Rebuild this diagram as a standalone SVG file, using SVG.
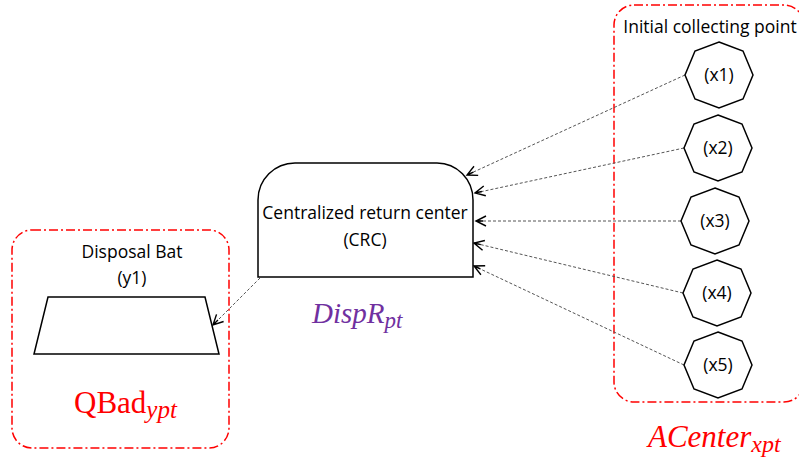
<svg xmlns="http://www.w3.org/2000/svg" width="799" height="461" viewBox="0 0 799 461">
<style>
.grp{fill:none;stroke:#ff0000;stroke-width:1.5;stroke-dasharray:9 3 2 3}
.shape{fill:#fff;stroke:#000;stroke-width:1.5}
.lbl{font-family:"Open Sans","Liberation Sans",sans-serif;font-size:17.5px;fill:#000;text-anchor:middle}
.conn{fill:none;stroke:#555;stroke-width:1;stroke-dasharray:3 2}
.math{font-family:"Liberation Serif","DejaVu Serif",serif}
</style>
<defs>
<marker id="arr" markerWidth="14" markerHeight="14" refX="11" refY="6" orient="auto" markerUnits="userSpaceOnUse">
<path d="M1,1 L11,6 L1,11 M4,6 L11,6" fill="none" stroke="#000" stroke-width="1.4"/>
</marker>
<polygon id="oct" points="0,-33 24,-24 34,0 24,24 0,33 -24,24 -34,0 -24,-24"/>
</defs>
<rect id="bg" width="799" height="461" fill="#fff"/>

<g id="group-collect">
<rect class="grp" x="614" y="5" width="190" height="397" rx="20"/>
<text class="lbl" x="710" y="33">Initial collecting point</text>
<text class="math" x="648" y="447" font-size="31" font-style="italic" fill="#ff0000">ACenter<tspan font-size="24" dy="5">xpt</tspan></text>
</g>

<g id="group-disposal">
<rect class="grp" x="12" y="230" width="217" height="218" rx="20"/>
<text class="math" x="74" y="413" font-size="31" fill="#ff0000">QBad<tspan font-size="25" font-style="italic" dy="5">ypt</tspan></text>
</g>

<g id="connectors">
<line class="conn" x1="685" y1="75" x2="467" y2="175" marker-end="url(#arr)"/>
<line class="conn" x1="684" y1="148" x2="475" y2="193" marker-end="url(#arr)"/>
<line class="conn" x1="681" y1="221" x2="476" y2="221" marker-end="url(#arr)"/>
<line class="conn" x1="683" y1="293" x2="474" y2="243" marker-end="url(#arr)"/>
<line class="conn" x1="684" y1="365" x2="474" y2="266" marker-end="url(#arr)"/>
<line class="conn" x1="260" y1="278" x2="213" y2="325" marker-end="url(#arr)"/>
</g>

<g id="crc">
<path class="shape" d="M258,277 L258,200 A37,37 0 0 1 295,163 L437,163 A36,37 0 0 1 473,200 L473,277 Z"/>
<text class="lbl" x="365" y="219">Centralized return center</text>
<text class="lbl" x="365" y="246">(CRC)</text>
<text class="math" x="312" y="323" font-size="29" font-style="italic" fill="#7030a0">DispR<tspan font-size="23" dy="5">pt</tspan></text>
</g>

<g id="y1">
<polygon class="shape" points="48,297 205,297 219,354 34,354"/>
<text class="lbl" x="132" y="258">Disposal Bat</text>
<text class="lbl" x="132" y="284">(y1)</text>
</g>

<g id="x1"><use href="#oct" class="shape" x="719" y="75"/><text class="lbl" x="719" y="81">(x1)</text></g>
<g id="x2"><use href="#oct" class="shape" x="718" y="148"/><text class="lbl" x="718" y="154">(x2)</text></g>
<g id="x3"><use href="#oct" class="shape" x="715" y="221"/><text class="lbl" x="715" y="227">(x3)</text></g>
<g id="x4"><use href="#oct" class="shape" x="717" y="293"/><text class="lbl" x="717" y="299">(x4)</text></g>
<g id="x5"><use href="#oct" class="shape" x="718" y="365"/><text class="lbl" x="718" y="371">(x5)</text></g>
</svg>
